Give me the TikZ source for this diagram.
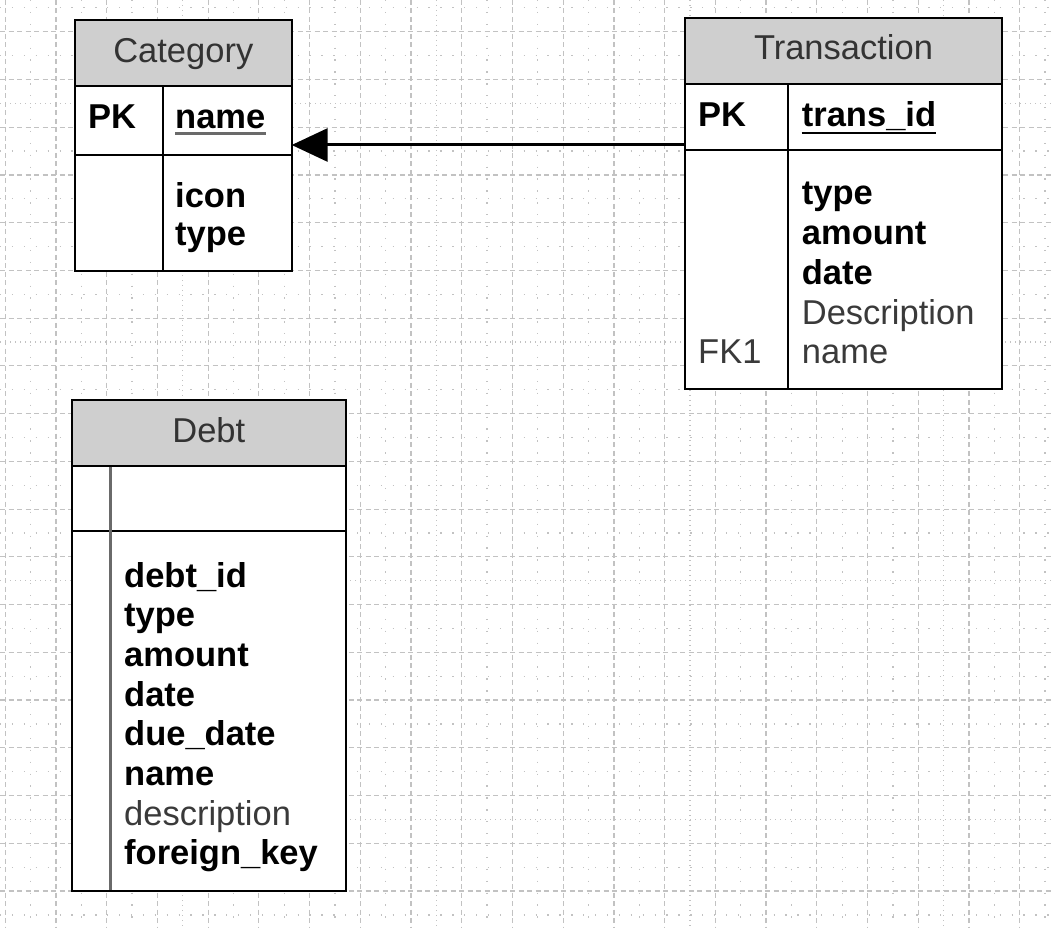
\documentclass[tikz,border=0pt]{standalone}
\usepackage{fontspec}
\setmainfont{Liberation Sans}
\usetikzlibrary{arrows.meta,calc}
\definecolor{gridgray}{HTML}{C2C2C2}
\definecolor{headfill}{HTML}{CFCFCF}
\definecolor{headtext}{HTML}{333333}
\definecolor{plaintext}{HTML}{3A3A3A}
\definecolor{softline}{HTML}{6A6A6A}
\newcommand\erfont{\fontsize{34.5}{39.7}\selectfont}

\begin{document}
\begin{tikzpicture}[x=1pt,y=-1pt,
  gridmajor/.style={gridgray,line width=1.2pt,dash pattern=on 5pt off 3.5pt},
  gridminor/.style={gridgray,line width=1.3pt,dash pattern=on 1.3pt off 10.6pt},
  griddense/.style={gridgray,line width=1.3pt,dash pattern=on 1.3pt off 3.7pt},
  tablepart/.style={draw=black,line width=2pt,fill=white,anchor=north west,inner sep=0pt,outer sep=0pt},
  tablehead/.style={tablepart,fill=headfill},
  headlabel/.style={anchor=base,inner sep=0pt,text=headtext,font=\erfont},
  keyfield/.style={anchor=base west,inner sep=0pt,font=\erfont\bfseries},
  plainfield/.style={anchor=base west,inner sep=0pt,text=plaintext,font=\erfont},
  divider/.style={line width=2pt},
  fkarrow/.style={line width=3pt,-{Triangle[length=36pt,width=33pt]}},
  ]
\useasboundingbox (0,0) rectangle (1053,928);

% background drawing grid
\begin{scope}
  \clip (0,0) rectangle (1053,928);
  \foreach \k in {-1,...,19}
    \draw[gridmajor] ({56+50.72*\k},0) -- ++(0,928);
  \foreach \k in {-1,...,20}{
    \pgfmathtruncatemacro\m{mod(\k+5,5)}
    \ifnum\m=2
      \draw[griddense] ({56+50.72*(\k+0.5)},0) -- ++(0,928);
    \else
      \draw[gridminor] ({56+50.72*(\k+0.5)},0) -- ++(0,928);
    \fi}
  \foreach \k in {0,...,18}
    \draw[gridmajor] (0,{31.7+47.74*\k}) -- ++(1053,0);
  \foreach \k in {-1,...,18}{
    \pgfmathtruncatemacro\m{mod(\k+5,5)}
    \ifnum\m=1
      \draw[griddense] (0,{31.7+47.74*(\k+0.5)}) -- ++(1053,0);
    \else
      \draw[gridminor] (0,{31.7+47.74*(\k+0.5)}) -- ++(1053,0);
    \fi}
\end{scope}

% Category table
\node[tablehead,minimum width=216.7pt,minimum height=66pt] (cathead) at (75,20) {};
\node[tablepart,minimum width=216.7pt,minimum height=69pt] (catpk) at (75,86) {};
\node[tablepart,minimum width=216.7pt,minimum height=115.7pt] (catbody) at (75,155) {};
\draw[divider] (162.7,86) -- (162.7,270.7);
\node[headlabel] (cattitle) at (183.3,62.7) {Category};
\node[keyfield] (catpklabel) at (88,128.3) {PK};
\node[keyfield] (catkey) at (175,128.3) {name};
\draw[softline,line width=2.5pt] ($(catkey.base west)+(0,5)$) -- ($(catkey.base east)+(0,5)$);
\node[keyfield] (caticon) at (175,208) {icon};
\node[keyfield] (cattype) at (175,246) {type};

% Transaction table
\node[tablehead,minimum width=317pt,minimum height=65.7pt] (trhead) at (685,18.3) {};
\node[tablepart,minimum width=317pt,minimum height=66pt] (trpk) at (685,84) {};
\node[tablepart,minimum width=317pt,minimum height=239pt] (trbody) at (685,150) {};
\draw[divider] (788.3,84) -- (788.3,389);
\node[headlabel] (trtitle) at (843.5,60) {Transaction};
\node[keyfield] (trpklabel) at (698,126.7) {PK};
\node[keyfield] (trkey) at (801.7,126.7) {trans\_id};
\draw[line width=2pt] ($(trkey.base west)+(0,6)$) -- ($(trkey.base east)+(0,6)$);
\node[keyfield] (trtype) at (801.7,205) {type};
\node[keyfield] (tramount) at (801.7,244.7) {amount};
\node[keyfield] (trdate) at (801.7,284.4) {date};
\node[plainfield] (trdesc) at (801.7,324.1) {Description};
\node[plainfield] (trname) at (801.7,363.8) {name};
\node[plainfield] (trfk) at (698,363.8) {FK1};

% Debt table
\node[tablehead,minimum width=274.3pt,minimum height=66pt] (dbhead) at (71.7,400) {};
\node[tablepart,minimum width=274.3pt,minimum height=64.7pt] (dbpk) at (71.7,466) {};
\node[tablepart,minimum width=274.3pt,minimum height=360pt] (dbbody) at (71.7,530.7) {};
\draw[softline,line width=3pt] (110.7,467) -- (110.7,889.7);
\node[headlabel] (dbtitle) at (208.8,442.7) {Debt};
\node[keyfield] (dbid) at (124,587) {debt\_id};
\node[keyfield] (dbtype) at (124,626.7) {type};
\node[keyfield] (dbamount) at (124,666.4) {amount};
\node[keyfield] (dbdate) at (124,706.1) {date};
\node[keyfield] (dbdue) at (124,745.8) {due\_date};
\node[keyfield] (dbname) at (124,785.5) {name};
\node[plainfield] (dbdesc) at (124,825.2) {description};
\node[keyfield] (dbfk) at (124,864.9) {foreign\_key};

% relationship: Transaction.name references Category.name
\coordinate (fksrc) at ($(trpk.south west)+(0,-5)$);
\draw[fkarrow] (fksrc) -- (catpk.east |- fksrc);
\end{tikzpicture}
\end{document}
